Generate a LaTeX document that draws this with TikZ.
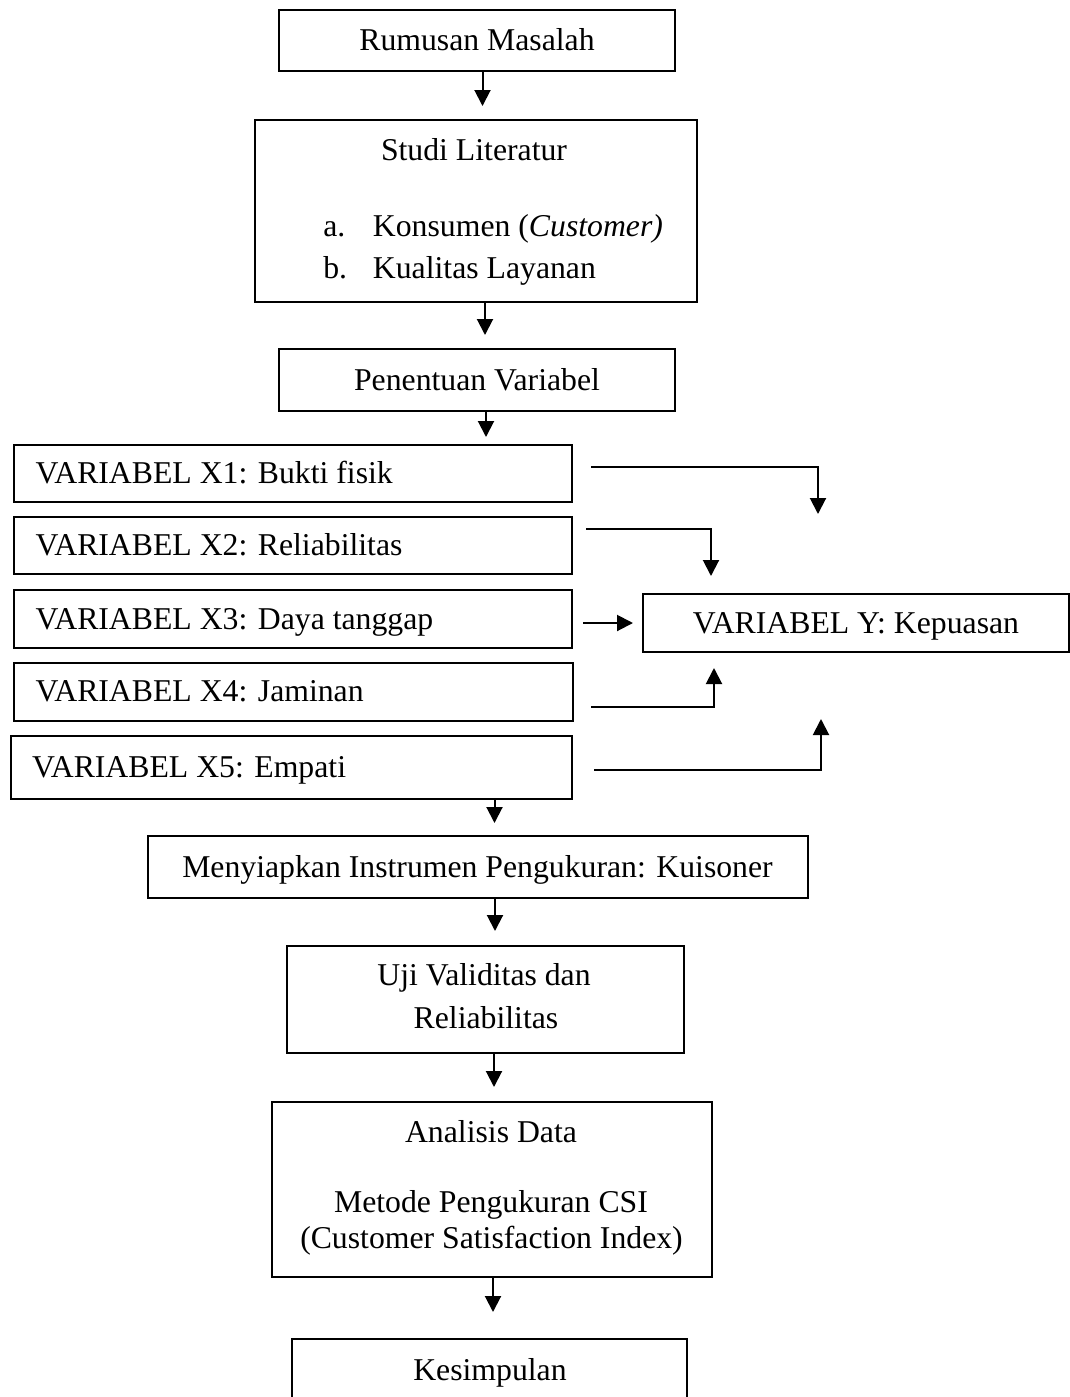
\documentclass[tikz,border=0pt]{standalone}
\usepackage{fontspec}
\setmainfont{Liberation Serif}
\usetikzlibrary{arrows.meta}
\begin{document}
\begin{tikzpicture}[x=0.75pt,y=-0.75pt,
  font=\fontsize{23.8}{28}\selectfont,
  box/.style={draw,line width=1.5pt,inner sep=0pt,text height=15.7pt,text depth=0pt},
  varbox/.style={box,inner xsep=16pt,align=flush left},
  txt/.style={inner sep=0pt,anchor=base},
  txtl/.style={inner sep=0pt,anchor=base west},
  arr/.style={line width=1.5pt,-{Triangle[length=12pt,width=12pt]}}]
\useasboundingbox (0,0) rectangle (1070,1397);
\clip (0,0) rectangle (1070,1397);

% main column
\node[box,minimum width=396*0.75pt,minimum height=61*0.75pt] (R) at (477,40) {Rumusan Masalah};
\node[box,minimum width=442*0.75pt,minimum height=182*0.75pt] (S) at (476,211) {};
\node[txt] (S1) at (474,160) {Studi Literatur};
\node[txtl] (Sa) at (323,236) {a.};
\node[txtl] (Sat) at (372.7,236) {Konsumen (\textit{Customer)}};
\node[txtl] (Sb) at (323,278) {b.};
\node[txtl] (Sbt) at (372.7,278) {Kualitas Layanan};
\node[box,minimum width=396*0.75pt,minimum height=62*0.75pt] (P) at (477,380) {Penentuan Variabel};

% variables
\node[varbox,text width=515*0.75pt,minimum height=57*0.75pt] (X1) at (293,473) {VARIABEL X1: Bukti fisik};
\node[varbox,text width=515*0.75pt,minimum height=57*0.75pt] (X2) at (293,545.5) {VARIABEL X2: Reliabilitas};
\node[varbox,text width=515*0.75pt,minimum height=58*0.75pt] (X3) at (293,619) {VARIABEL X3: Daya tanggap};
\node[varbox,text width=516*0.75pt,minimum height=58*0.75pt] (X4) at (293.5,691.5) {VARIABEL X4: Jaminan};
\node[varbox,text width=519*0.75pt,minimum height=63*0.75pt] (X5) at (291.5,767.5) {VARIABEL X5: Empati};
\node[box,minimum width=426*0.75pt,minimum height=58*0.75pt] (Y) at (856,623) {VARIABEL Y: Kepuasan};

\node[box,minimum width=660*0.75pt,minimum height=62*0.75pt] (M) at (477.5,867) {Menyiapkan Instrumen Pengukuran: Kuisoner};
\node[box,minimum width=397*0.75pt,minimum height=107*0.75pt] (U) at (485.5,999) {};
\node[txt] (U1) at (484,985) {Uji Validitas dan};
\node[txt] (U2) at (486,1028) {Reliabilitas};
\node[box,minimum width=440*0.75pt,minimum height=175*0.75pt] (A) at (492,1189) {};
\node[txt] (A1) at (491,1142) {Analisis Data};
\node[txt] (A2) at (491,1212.7) {Metode Pengukuran CSI};
\node[txt] (A3) at (491.5,1248) {(Customer Satisfaction Index)};
\node[box,minimum width=395*0.75pt,minimum height=82*0.75pt] (K) at (489.5,1380) {};
\node[txt] (K1) at (490,1380) {Kesimpulan};

% vertical connectors
\coordinate (t1) at (482.5,106);
\coordinate (t2) at (485,335);
\coordinate (t3) at (486,437);
\coordinate (t4) at (494.5,823);
\coordinate (t5) at (495,931);
\coordinate (t6) at (494,1087);
\coordinate (t7) at (493,1312);
\draw[arr] (R.south -| t1) -- (t1);
\draw[arr] (S.south -| t2) -- (t2);
\draw[arr] (P.south -| t3) -- (t3);
\draw[arr] (X5.south -| t4) -- (t4);
\draw[arr] (M.south -| t5) -- (t5);
\draw[arr] (U.south -| t6) -- (t6);
\draw[arr] (A.south -| t7) -- (t7);

% connectors to Y
\coordinate (s1) at (591,467);   \coordinate (e1) at (818,514);
\coordinate (s2) at (586,529);   \coordinate (e2) at (711,576);
\coordinate (s3) at (583,623);   \coordinate (e3) at (633,623);
\coordinate (s4) at (591,707);   \coordinate (e4) at (714,668);
\coordinate (s5) at (594,770);   \coordinate (e5) at (821,719);
\draw[arr] (s1) -| (e1);
\draw[arr] (s2) -| (e2);
\draw[arr] (s3) -- (e3);
\draw[arr] (s4) -| (e4);
\draw[arr] (s5) -| (e5);
\end{tikzpicture}
\end{document}
